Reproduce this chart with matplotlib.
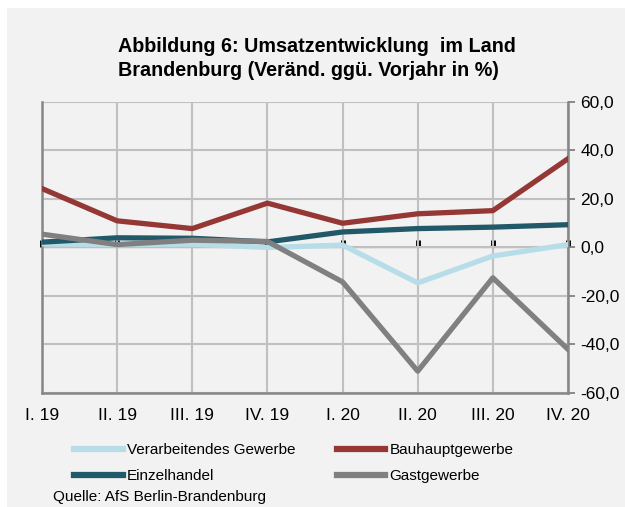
import matplotlib
matplotlib.use('Agg')
import matplotlib.pyplot as plt
from matplotlib.patches import Rectangle
import numpy as np

# Werte (Veraenderung ggue. Vorjahr in %)
quartale = ['I. 19', 'II. 19', 'III. 19', 'IV. 19', 'I. 20', 'II. 20', 'III. 20', 'IV. 20']
verarbeitendes = [1.5, 1.2, 1.4, 0.0, 1.0, -14.6, -3.5, 1.2]
bauhaupt = [24.3, 11.0, 7.8, 18.3, 10.0, 13.9, 15.2, 36.6]
einzelhandel = [2.2, 4.0, 3.8, 2.3, 6.4, 7.8, 8.4, 9.4]
gastgewerbe = [5.5, 1.2, 3.0, 2.5, -14.2, -51.0, -12.5, -42.0]

y_ticks = [-60, -40, -20, 0, 20, 40, 60]

plt.rcParams['font.family'] = ['Liberation Sans', 'DejaVu Sans']

fig = plt.figure(figsize=(6.25, 5.07), dpi=100)
fig.patch.set_facecolor('white')
# grauer Hintergrund mit schmalem weissen Rand oben/links
fig.patches.append(Rectangle((7 / 625, 0), 1, 1 - 8 / 507, transform=fig.transFigure,
                             facecolor='#f2f2f2', edgecolor='none', zorder=-10))

ax = fig.add_axes([42 / 625, 1 - 393 / 507, (568 - 42) / 625, (393 - 102) / 507])
ax.set_facecolor('#f2f2f2')

x = np.arange(len(quartale))
ax.plot(x, verarbeitendes, color='#b7dee8', lw=3.8, label='Verarbeitendes Gewerbe', zorder=3)
ax.plot(x, bauhaupt, color='#953735', lw=3.8, label='Bauhauptgewerbe', zorder=4)
ax.plot(x, einzelhandel, color='#215968', lw=3.8, label='Einzelhandel', zorder=5)
ax.plot(x, gastgewerbe, color='#808080', lw=3.8, label='Gastgewerbe', zorder=6)

ax.set_xlim(0, len(quartale) - 1)
ax.set_ylim(-60, 60)

ax.set_xticks(x)
ax.set_xticklabels(quartale, fontsize=12.5)
ax.tick_params(axis='x', length=0, pad=11)

ax.yaxis.tick_right()
ax.set_yticks(y_ticks)
ax.set_yticklabels([f'{v:.1f}'.replace('.', ',') for v in y_ticks], fontsize=12.5)
ax.tick_params(axis='y', direction='out', length=5, width=1.3, color='#808080', pad=4)

ax.grid(True, color='#c0c0c0', lw=1.5, zorder=0)
ax.set_axisbelow(True)
for side in ['left', 'bottom', 'right']:
    ax.spines[side].set_color('#878787')
    ax.spines[side].set_linewidth(1.8)
ax.spines['top'].set_visible(False)

# Nulllinie mit kleinen Strichen nach unten
zero_ax = ax.secondary_xaxis(0.5)
zero_ax.set_xticks(x)
zero_ax.set_xticklabels([])
zero_ax.tick_params(direction='out', length=5, width=3.5, color='black')
zero_ax.spines['bottom'].set_color('black')
zero_ax.spines['bottom'].set_linewidth(2.5)

handles, labels = ax.get_legend_handles_labels()
order = [0, 2, 1, 3]
leg = fig.legend([handles[i] for i in order], [labels[i] for i in order],
                 ncol=2, loc='upper left', bbox_to_anchor=(68 / 625, 1 - 437 / 507),
                 frameon=False, fontsize=11, handlelength=3.2, handletextpad=0.25,
                 columnspacing=2.7, labelspacing=0.8, borderaxespad=0)
for line in leg.get_lines():
    line.set_linewidth(4.5)

fig.text(118 / 625, 1 - 58.5 / 507,
         'Abbildung 6: Umsatzentwicklung  im Land\nBrandenburg (Veränd. ggü. Vorjahr in %)',
         ha='left', va='center', fontsize=14.2, fontweight='bold', linespacing=1.4)
fig.text(53 / 625, 1 - 497 / 507, 'Quelle: AfS Berlin-Brandenburg', ha='left', va='center',
         fontsize=11)

fig.savefig('out.png', dpi=100, facecolor=fig.get_facecolor())
